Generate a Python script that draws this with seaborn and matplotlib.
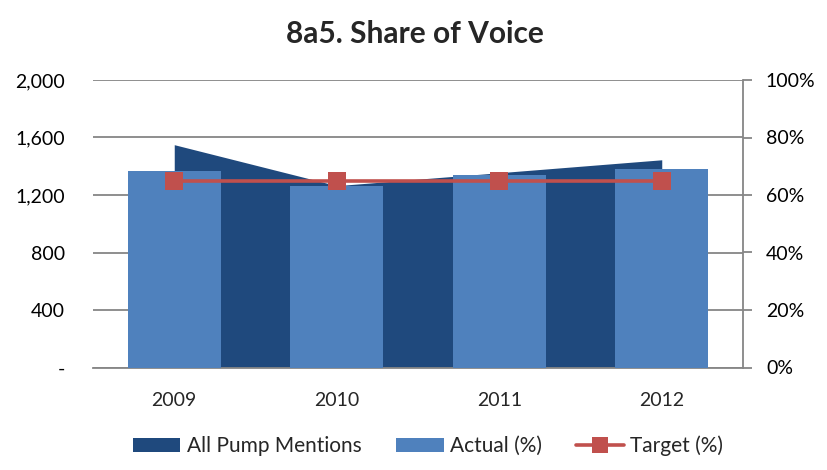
import numpy as np
import pandas as pd
import matplotlib
matplotlib.use("Agg")
import matplotlib.pyplot as plt
import seaborn as sns
from matplotlib.ticker import FuncFormatter, PercentFormatter, MultipleLocator
from matplotlib.patches import Patch
from matplotlib.lines import Line2D

# ---- data ----
years = ["2009", "2010", "2011", "2012"]
pump_mentions = [1550, 1265, 1355, 1445]
actual_pct = [0.682, 0.630, 0.668, 0.692]
target_pct = [0.65, 0.65, 0.65, 0.65]

title = "8a5. Share of Voice"
series_names = ["All Pump Mentions", "Actual (%)", "Target (%)"]

dark_blue = "#1F497D"
mid_blue = "#4F81BD"
red = "#C0504D"
grid_gray = "#868686"

sns.set_style("white")
plt.rcParams["font.family"] = ["Lato", "DejaVu Sans"]

pos = np.arange(len(years))
df = pd.DataFrame({"pos": pos, "year": years, "pumps": pump_mentions,
                   "actual": actual_pct, "target": target_pct})

fig = plt.figure(figsize=(8.27, 4.70), dpi=100)
ax = fig.add_axes([93 / 827, 1 - 367.5 / 470, (743 - 93) / 827, (367.5 - 80) / 470])

# area on the primary axis
ax.fill_between(df["pos"], df["pumps"], color=dark_blue, lw=0, zorder=2)
ax.set_ylim(0, 2000)
ax.yaxis.set_major_locator(MultipleLocator(400))
ax.yaxis.set_major_formatter(FuncFormatter(lambda v, p: "-" if v == 0 else f"{int(v):,}"))
ax.set_axisbelow(True)
ax.grid(axis="y", color=grid_gray, lw=1.3)
ax.grid(axis="x", visible=False)
for s in ["left", "top", "right"]:
    ax.spines[s].set_visible(False)
ax.spines["bottom"].set_color(grid_gray)
ax.spines["bottom"].set_linewidth(1.3)
ax.tick_params(axis="y", length=0, pad=20, labelsize=14, colors="black")

# bars + target on secondary axis
ax2 = ax.twinx()
sns.barplot(data=df, x="pos", y="actual", native_scale=True, ax=ax2,
            color=mid_blue, saturation=1, width=0.57, errorbar=None,
            linewidth=0, edgecolor=mid_blue, zorder=3)
sns.lineplot(data=df, x="pos", y="target", ax=ax2, color=red, lw=2.6,
             marker="s", markersize=13.5, markeredgewidth=0, legend=False, zorder=4)
ax2.set_ylim(0, 1)
ax2.yaxis.set_major_locator(MultipleLocator(0.2))
ax2.yaxis.set_major_formatter(PercentFormatter(1.0, decimals=0))
ax2.set_ylabel("")
ax2.set_xlabel("")
for s in ["left", "top", "bottom"]:
    ax2.spines[s].set_visible(False)
ax2.spines["right"].set_color(grid_gray)
ax2.spines["right"].set_linewidth(1.3)
ax2.tick_params(axis="y", length=6.5, width=1.3, color=grid_gray, pad=10,
                labelsize=14, labelcolor="black", right=True, left=False)

ax.set_xlim(-0.5, len(years) - 0.5)
ax2.set_xlim(-0.5, len(years) - 0.5)
ax.set_xticks(pos)
ax.set_xticklabels(years)
ax.tick_params(axis="x", length=0, pad=18, labelsize=14)
ax2.tick_params(axis="x", bottom=False, labelbottom=False)
ax.set_xlabel("")
ax.set_ylabel("")

fig.text(415 / 827, 1 - 34 / 470, title, ha="center", va="center",
         fontsize=21.5, fontweight="bold")

handles = [Patch(facecolor=dark_blue, edgecolor="none"),
           Patch(facecolor=mid_blue, edgecolor="none"),
           Line2D([0], [0], color=red, lw=2.6, marker="s", markersize=11,
                  markeredgewidth=0)]
fig.legend(handles, series_names, loc="center", ncol=3,
           bbox_to_anchor=(428 / 827, 1 - 446 / 470), frameon=False,
           fontsize=15, handlelength=2.3, handleheight=0.6,
           handletextpad=0.3, columnspacing=1.65)

fig.savefig("out.png", dpi=100)
